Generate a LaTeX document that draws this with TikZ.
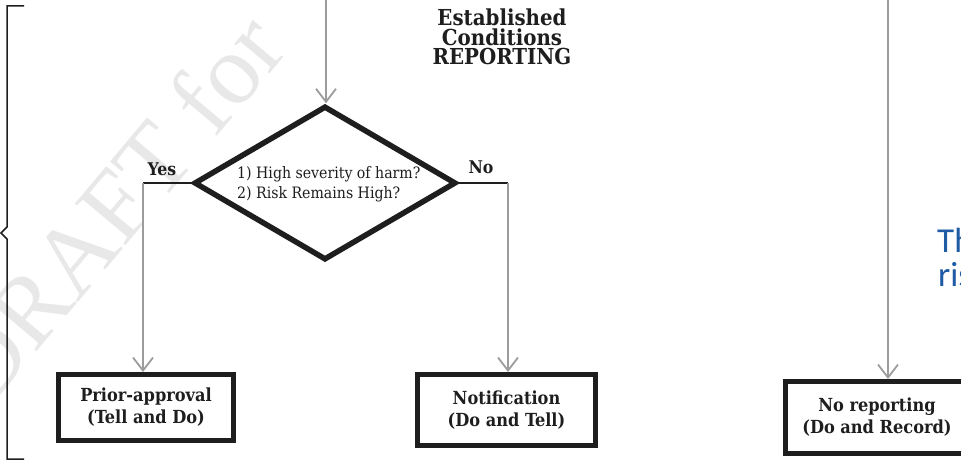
\documentclass[tikz,border=0pt]{standalone}
\usepackage{fontspec}
\setmainfont{DejaVu Serif Condensed}
\newfontfamily\notefont{Carlito}
\newfontfamily\stampfont{Liberation Serif}
\usetikzlibrary{shapes.geometric,arrows.meta}

\definecolor{ink}{HTML}{1E1E1E}
\definecolor{wire}{HTML}{9C9C9C}
\definecolor{noteblue}{HTML}{1F5AA5}
\definecolor{stamp}{HTML}{E8E8E8}

\tikzset{
  decision/.style={diamond, draw=ink, line width=5.5pt, aspect=1.69,
    minimum width=262pt, minimum height=154pt, inner sep=0pt},
  outcome/.style={rectangle, draw=ink, line width=5pt, fill=white,
    align=center, inner sep=0pt, text=ink,
    font=\bfseries\fontsize{18}{22}\selectfont},
  feed/.style={draw=wire, line width=1.8pt,
    -{Straight Barb[length=13pt,width=20pt,line width=1.8pt]}},
  lead/.style={draw=ink, line width=1.4pt},
  answer/.style={font=\bfseries\fontsize{17.5}{18}\selectfont, text=ink, inner sep=0pt},
  question/.style={font=\fontsize{15.7}{18}\selectfont, text=ink, inner sep=0pt},
  heading/.style={font=\bfseries\fontsize{22}{19.5}\selectfont, text=ink,
    align=center, inner sep=0pt},
  note/.style={font=\notefont\fontsize{35}{35}\selectfont, text=noteblue, inner sep=0pt},
  brace/.style={draw=ink, line width=1.5pt, line join=miter}
}

\begin{document}
\begin{tikzpicture}[x=1pt,y=-1pt]
\useasboundingbox (0,0) rectangle (961,462);

% faint watermark behind everything
\node[font=\stampfont\fontsize{100}{100}\selectfont, text=stamp, rotate=50,
  anchor=base east, inner sep=0pt] (wm) at (290,50) {DRAFT for};

% side bracket
\draw[brace] (24,6) -- (7,6) -- (7,227) -- (1,233) -- (7,239) -- (7,459) -- (24,459);

% heading
\node[heading, anchor=north] (title) at (502,9) {Established\\Conditions\\REPORTING};

% decision diamond and its questions
\node[decision] (d) at (325,183) {};
\node[question, anchor=base west] (q1) at (237,179) {1) High severity of harm?};
\node[question, anchor=base west] (q2) at (237,199) {2) Risk Remains High?};

% outcome boxes
\node[outcome, minimum width=175pt, minimum height=66pt] (pa) at (146,407.5)
  {Prior-approval\\(Tell and Do)};
\node[outcome, minimum width=178pt, minimum height=71pt] (nt) at (506.5,410)
  {Notification\\(Do and Tell)};
\node[outcome, minimum width=183pt, minimum height=72pt] (nr) at (877,417.5)
  {No reporting\\(Do and Record)};

% branch labels
\node[answer, anchor=base] (yes) at (162,176) {Yes};
\node[answer, anchor=base] (no) at (481,174) {No};

% connectors
\coordinate (topin) at (326,0);
\coordinate (rightin) at (888,0);
\coordinate (yc) at (143,183);
\coordinate (nc) at (508,183);

\draw[feed] (topin) -- (topin |- d.north);
\draw[lead] (d.west) -- (yc);
\draw[feed] (yc) -- (yc |- pa.north);
\draw[lead] (d.east) -- (nc);
\draw[feed] (nc) -- (nc |- nt.north);
\draw[feed] (rightin) -- (rightin |- nr.north);

% side note running off the edge
\node[note, anchor=base west] (n1) at (937,253) {Th};
\node[note, anchor=base west] (n2) at (938,287) {ris};
\end{tikzpicture}
\end{document}
